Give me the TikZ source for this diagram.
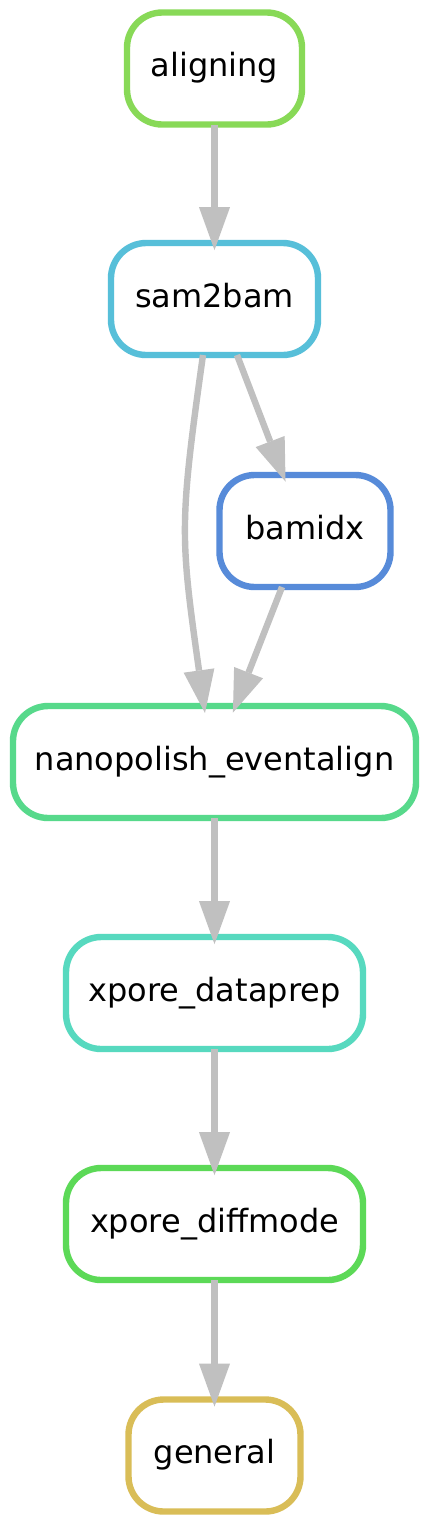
\documentclass[tikz,border=0pt]{standalone}
\usepackage{fontspec}
\setmainfont{DejaVu Sans}
\usetikzlibrary{arrows.meta,calc}
\definecolor{cAlign}{RGB}{136,217,87}
\definecolor{cSam}{RGB}{87,191,217}
\definecolor{cBam}{RGB}{87,139,217}
\definecolor{cNano}{RGB}{87,217,139}
\definecolor{cPrep}{RGB}{87,217,191}
\definecolor{cDiff}{RGB}{92,217,87}
\definecolor{cGen}{RGB}{217,189,87}
\definecolor{edgegray}{RGB}{192,192,192}
\begin{document}
\begin{tikzpicture}[x=0.3125pt,y=-0.3125pt,
  job/.style={draw, line width=2pt, rounded corners=11pt, inner sep=0pt,
    outer sep=0pt, minimum height=35pt, text height=7.5pt, text depth=2.5pt,
    font=\fontsize{10pt}{12pt}\selectfont, fill=white},
  edge/.style={draw=edgegray, line width=2pt,
    -{Triangle[length=13.4pt,width=9.7pt,line width=0pt]}, shorten >=-2.2pt}]
\fill[white] (0,0) rectangle (428,1522);
\useasboundingbox (0,0) rectangle (428,1522);

\node[job, draw=cAlign, minimum width=54.69pt] (aligning) at (214.5,68.5) {aligning};
\node[job, draw=cSam, minimum width=64.69pt] (sam2bam) at (214.5,299) {sam2bam};
\node[job, draw=cBam, minimum width=53.44pt] (bamidx) at (305,531) {bamidx};
\node[job, draw=cNano, minimum width=125.94pt] (nanopolish) at (214.5,762) {nanopolish\_eventalign};
\node[job, draw=cPrep, minimum width=92.81pt] (dataprep) at (214.5,993) {xpore\_dataprep};
\node[job, draw=cDiff, minimum width=92.81pt] (diffmode) at (214.5,1224) {xpore\_diffmode};
\node[job, draw=cGen, minimum width=53.75pt] (general) at (214.5,1455.5) {general};

\draw[edge] (aligning) -- (sam2bam);
\draw[edge] ($(sam2bam.south)+(-11.5,0)$) to[out=-98,in=98,looseness=1.25] ($(nanopolish.north)+(-10.5,0)$);
\draw[edge] ($(sam2bam.south)+(22.5,0)$) -- ($(bamidx.north)+(-22,0)$);
\draw[edge] ($(bamidx.south)+(-23,0)$) -- ($(nanopolish.north)+(21,0)$);
\draw[edge] (nanopolish) -- (dataprep);
\draw[edge] (dataprep) -- (diffmode);
\draw[edge] (diffmode) -- (general);
\end{tikzpicture}
\end{document}
